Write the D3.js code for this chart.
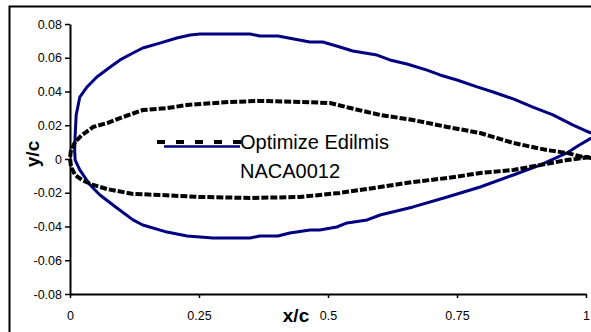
<!DOCTYPE html>
<html>
<head>
<meta charset="utf-8">
<script src="https://cdn.jsdelivr.net/npm/d3@7"></script>
<style>
  body { margin: 0; background: #fff; }
  svg { display: block; font-family: "Liberation Sans", Arial, sans-serif; }
</style>
</head>
<body>
<div id="chart"></div>
<script>
// x tick values and their labels
const xTicks = [0, 0.25, 0.5, 0.75, 1];
const xTickLabels = ['0', '0.25', '0.5', '0.75', '1'];
const yTicks = [-0.08, -0.06, -0.04, -0.02, 0, 0.02, 0.04, 0.06, 0.08];
const yTickLabels = ['-0.08', '-0.06', '-0.04', '-0.02', '0', '0.02', '0.04', '0.06', '0.08'];

// dashed black profile (trailing edge -> upper -> LE -> lower -> TE)
const optX = [1.01, 0.994, 0.963, 0.924, 0.859, 0.795, 0.731, 0.665, 0.601, 0.543, 0.504, 0.446, 0.368, 0.310, 0.252, 0.227, 0.188, 0.141, 0.103, 0.072, 0.045, 0.023, 0.010, 0.002, 0.000,
  0.002, 0.010, 0.023, 0.045, 0.072, 0.122, 0.174, 0.252, 0.349, 0.446, 0.523, 0.601, 0.665, 0.731, 0.795, 0.859, 0.911, 0.963, 1.01];
const optY = [0.0006, 0.0012, 0.0036, 0.0053, 0.0095, 0.0154, 0.0190, 0.0231, 0.0261, 0.0302, 0.0332, 0.0338, 0.0344, 0.0338, 0.0326, 0.0320, 0.0302, 0.0290, 0.0249, 0.0213, 0.0190, 0.0142, 0.0101, 0.0053, 0.0006,
  -0.0047, -0.0095, -0.0124, -0.0154, -0.0178, -0.0207, -0.0213, -0.0225, -0.0231, -0.0225, -0.0201, -0.0166, -0.0136, -0.0113, -0.0083, -0.0065, -0.0036, -0.0006, 0.0012];

// blue profile
const nacaX = [1.01, 1.000, 0.975, 0.936, 0.897, 0.859, 0.820, 0.789, 0.750, 0.717, 0.692, 0.653, 0.620, 0.595, 0.548, 0.523, 0.490, 0.465, 0.403, 0.368, 0.349, 0.252, 0.233, 0.207, 0.174, 0.141, 0.122, 0.097, 0.078, 0.052, 0.033, 0.019, 0.012, 0.010, 0.009, 0.010,
  0.019, 0.039, 0.058, 0.091, 0.122, 0.141, 0.188, 0.227, 0.252, 0.277, 0.349, 0.368, 0.403, 0.426, 0.465, 0.484, 0.517, 0.537, 0.576, 0.601, 0.665, 0.731, 0.795, 0.859, 0.911, 0.963, 0.984, 1.01];
const nacaY = [0.0154, 0.0166, 0.0201, 0.0261, 0.0308, 0.0356, 0.0397, 0.0427, 0.0468, 0.0498, 0.0527, 0.0563, 0.0587, 0.0616, 0.0640, 0.0664, 0.0693, 0.0693, 0.0729, 0.0729, 0.0741, 0.0741, 0.0735, 0.0717, 0.0687, 0.0658, 0.0628, 0.0587, 0.0545, 0.0486, 0.0427, 0.0367, 0.0261, 0.0142, 0.0053, -0.0006,
  -0.0065, -0.0154, -0.0213, -0.0290, -0.0361, -0.0391, -0.0433, -0.0456, -0.0462, -0.0468, -0.0468, -0.0456, -0.0456, -0.0439, -0.0421, -0.0421, -0.0403, -0.0379, -0.0361, -0.0332, -0.0284, -0.0225, -0.0166, -0.0095, -0.0036, 0.0036, 0.0077, 0.0124];

const seriesNames = ['Optimize Edilmis', 'NACA0012'];

const width = 591, height = 332;

const svg = d3.select('#chart')
  .append('svg')
  .attr('width', width)
  .attr('height', height);

// outer chart border
svg.append('rect')
  .attr('x', 9.5).attr('y', 6.5)
  .attr('width', 600).attr('height', 340)
  .attr('fill', 'none')
  .attr('stroke', '#000')
  .attr('stroke-width', 2);

const x = d3.scaleLinear().domain([0, 1]).range([70, 586]);
const y = d3.scaleLinear().domain([-0.08, 0.08]).range([294, 24]);

// axes
const yAxis = svg.append('g')
  .attr('transform', `translate(${x(0)},0)`)
  .call(d3.axisLeft(y).tickValues(yTicks).tickSize(5).tickSizeOuter(0).tickPadding(3)
    .tickFormat((d, i) => yTickLabels[i]));

const xAxis = svg.append('g')
  .attr('transform', `translate(0,${y(-0.08)})`)
  .call(d3.axisBottom(x).tickValues(xTicks).tickSize(4).tickSizeOuter(0).tickPadding(13)
    .tickFormat((d, i) => xTickLabels[i]));

[xAxis, yAxis].forEach(g => {
  g.select('.domain').attr('stroke-width', 2);
  g.selectAll('.tick line').attr('stroke-width', 1.5);
  g.selectAll('text').attr('font-size', 12.5).attr('fill', '#000')
    .attr('font-family', '"Liberation Sans", Arial, sans-serif');
});
yAxis.select('.tick:first-of-type line').attr('x2', 3).attr('x1', -5);

// axis titles
svg.append('text')
  .attr('x', 296).attr('y', 322)
  .attr('text-anchor', 'middle')
  .attr('font-size', 19).attr('font-weight', 'bold')
  .text('x/c');

svg.append('text')
  .attr('transform', 'translate(39,154) rotate(-90)')
  .attr('text-anchor', 'middle')
  .attr('font-size', 19).attr('font-weight', 'bold')
  .text('y/c');

const line = d3.line().x(d => x(d[0])).y(d => y(d[1]));

// curves
svg.append('path')
  .datum(nacaX.map((v, i) => [v, nacaY[i]]))
  .attr('d', line)
  .attr('fill', 'none')
  .attr('stroke', '#000080')
  .attr('stroke-width', 3)
  .attr('stroke-linejoin', 'round');

svg.append('path')
  .datum(optX.map((v, i) => [v, optY[i]]))
  .attr('d', line)
  .attr('fill', 'none')
  .attr('stroke', '#000')
  .attr('stroke-width', 4)
  .attr('stroke-dasharray', '7,2');

// legend
const legend = svg.append('g');
legend.append('line')
  .attr('x1', 157).attr('x2', 241).attr('y1', 142).attr('y2', 142)
  .attr('stroke', '#000').attr('stroke-width', 4).attr('stroke-dasharray', '8,11');
legend.append('line')
  .attr('x1', 164).attr('x2', 240).attr('y1', 146.5).attr('y2', 146.5)
  .attr('stroke', '#000080').attr('stroke-width', 2.5);
legend.selectAll('text')
  .data(seriesNames)
  .join('text')
  .attr('x', 240)
  .attr('y', (d, i) => 149 + i * 29)
  .attr('font-size', 20)
  .attr('fill', '#000')
  .text(d => d);
</script>
</body>
</html>
